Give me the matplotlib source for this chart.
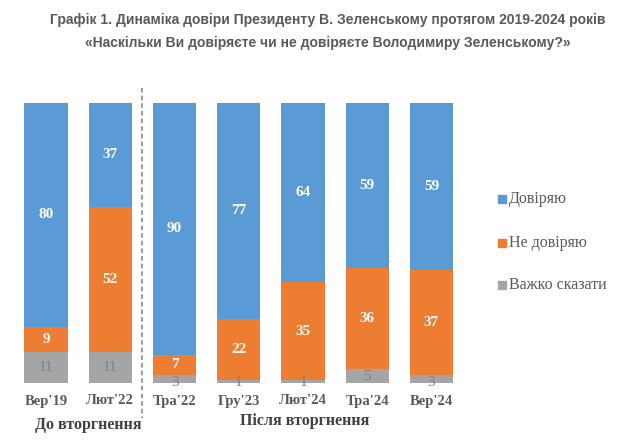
import matplotlib
matplotlib.use("Agg")
import matplotlib.pyplot as plt
import numpy as np

categories = ["Вер'19", "Лют'22", "Тра'22", "Гру'23", "Лют'24", "Тра'24", "Вер'24"]
trust = [80, 37, 90, 77, 64, 59, 59]
distrust = [9, 52, 7, 22, 35, 36, 37]
hard = [11, 11, 3, 1, 1, 5, 3]
series_names = ["Довіряю", "Не довіряю", "Важко сказати"]
group_labels = ["До вторгнення", "Після вторгнення"]
title_lines = ["Графік 1. Динаміка довіри Президенту В. Зеленському протягом 2019-2024 років",
               "«Наскільки Ви довіряєте чи не довіряєте Володимиру Зеленському?»"]

colors = ["#5B9BD5", "#ED7D31", "#A5A5A5"]
text_gray = "#595959"
serif = ["Liberation Serif", "DejaVu Serif"]
sans = ["Liberation Sans", "DejaVu Sans"]

W, H = 640, 442
fig = plt.figure(figsize=(W / 100, H / 100), dpi=100)

spacing = 64.25
c0 = 46
left_px = c0 - 0.5 * spacing
ax_w = 7 * spacing
bottom_px = 442 - 383
ax_h = 280
ax = fig.add_axes([left_px / W, bottom_px / H, ax_w / W, ax_h / H])

x = np.arange(len(categories))
tot = np.array(trust) + np.array(distrust) + np.array(hard)
h = np.array(hard) / tot * 100
d = np.array(distrust) / tot * 100
t = np.array(trust) / tot * 100
bw = 0.67
ax.bar(x, h, bw, color=colors[2], label=series_names[2])
ax.bar(x, d, bw, bottom=h, color=colors[1], label=series_names[1])
ax.bar(x, t, bw, bottom=h + d, color=colors[0], label=series_names[0])

for i in x:
    ax.text(i, h[i] + d[i] + t[i] / 2, str(trust[i]), ha="center", va="center",
            color="white", fontweight="bold", fontsize=11, family=serif)
    ax.text(i, h[i] + d[i] / 2, str(distrust[i]), ha="center", va="center",
            color="white", fontweight="bold", fontsize=11, family=serif)
    yh = h[i] / 2 if hard[i] >= 5 else 0.3
    ax.text(i, yh, str(hard[i]), ha="center", va="center",
            color="#7F7F7F", fontsize=11, family=serif)

ax.set_xlim(-0.5, 6.5)
ax.set_ylim(0, 100)
ax.axis("off")

# dashed separator
ax.plot([1.5, 1.5], [105.4, -12.5], ls=(0, (3, 2)), color="#7F7F7F", lw=1.1, clip_on=False)

# tick labels
for i, c in enumerate(categories):
    fig.text((c0 + i * spacing) / W, 1 - 401 / H, c, ha="center", va="center",
             fontsize=10.5, fontweight="bold", color=text_gray, family=serif)

fig.text(88 / W, 1 - 425 / H, group_labels[0], ha="center", va="center",
         fontsize=11.5, fontweight="bold", color="#404040", family=serif)
fig.text(305 / W, 1 - 421 / H, group_labels[1], ha="center", va="center",
         fontsize=11.5, fontweight="bold", color="#404040", family=serif)

# title
fig.text(328 / W, 1 - 20 / H, title_lines[0], ha="center", va="center",
         fontsize=10.0, fontweight="bold", color=text_gray, family=sans)
fig.text(328 / W, 1 - 43 / H, title_lines[1], ha="center", va="center",
         fontsize=10.0, fontweight="bold", color=text_gray, family=sans)

# legend
leg_y = [199, 243, 285]
leg_colors = [colors[0], colors[1], colors[2]]
leg_names = [series_names[0], series_names[1], series_names[2]]
for yy, cc, nn in zip(leg_y, leg_colors, leg_names):
    fig.patches.append(plt.Rectangle((498 / W, 1 - (yy + 4) / H), 8 / W, 8 / H,
                                     transform=fig.transFigure, color=cc))
    fig.text(509 / W, 1 - yy / H, nn, ha="left", va="center",
             fontsize=11.5, color=text_gray, family=serif)

fig.savefig("out.png", dpi=100, facecolor="white")
